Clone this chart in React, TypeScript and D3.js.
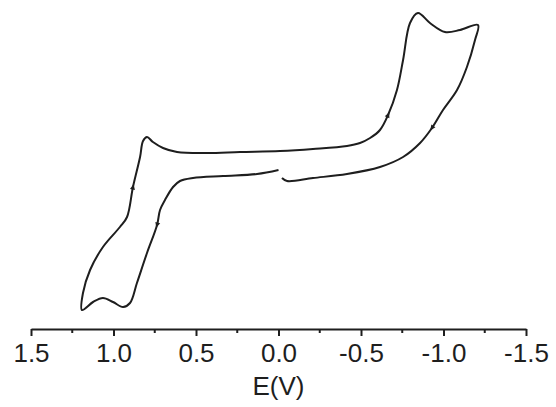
import React, { useRef, useEffect } from "react";
import * as d3 from "d3";

// potential (V) and current (arb. units)
const potential = [
  0.0, 0.13, 0.336, 0.518, 0.597, 0.639, 0.688, 0.718, 0.736, 0.797, 0.858, 0.9,
  0.942, 1.003, 1.064, 1.124, 1.191, 1.185, 1.142, 1.064, 0.961, 0.918, 0.882,
  0.839, 0.821, 0.797, 0.761, 0.7, 0.615, 0.433, 0.233, -0.009, -0.209, -0.415,
  -0.494, -0.555, -0.615, -0.664, -0.718, -0.755, -0.797, -0.845, -0.918, -1.009,
  -1.1, -1.209, -1.191, -1.142, -1.082, -0.997, -0.93, -0.858, -0.755, -0.615,
  -0.415, -0.209, -0.052, -0.021,
];
const current = [
  6.0, 5.6, 5.4, 5.2, 4.9, 4.3, 3.0, 2.0, 0.5, -2.3, -5.3, -7.3, -7.7, -7.2, -6.8,
  -7.2, -8.0, -6.3, -4.0, -1.7, 0.3, 1.3, 4.3, 7.3, 8.9, 9.3, 8.8, 8.2, 7.8, 7.7,
  7.8, 7.9, 8.1, 8.4, 8.7, 9.2, 10.0, 11.5, 14.0, 17.0, 20.7, 21.7, 20.7, 19.8,
  20.0, 20.5, 19.0, 16.3, 14.0, 12.0, 10.2, 8.7, 7.3, 6.3, 5.6, 5.2, 4.9, 5.2,
];
// indices of the scan-direction markers
const arrowIdx = [8, 22, 37, 50];

const majorTicks = [1.5, 1.0, 0.5, 0.0, -0.5, -1.0, -1.5];
const minorTicks = [1.25, 0.75, 0.25, -0.25, -0.75, -1.25];

function App() {
  const svgRef = useRef<SVGSVGElement>(null);
  const width = 556;
  const height = 407;

  useEffect(() => {
    const svg = d3.select(svgRef.current);
    svg.selectAll("*").remove();

    const x = d3.scaleLinear().domain([1.5, -1.5]).range([31, 526]);
    const y = d3.scaleLinear().domain([-10, 23]).range([330, 0]);

    const pts: [number, number][] = potential.map((e, i) => [e, current[i]]);

    const lineGen = d3
      .line<[number, number]>()
      .x((d) => x(d[0]))
      .y((d) => y(d[1]))
      .curve(d3.curveCatmullRom.alpha(0.5));

    const g = svg.append("g");
    g.append("path")
      .attr("d", lineGen(pts))
      .attr("fill", "none")
      .attr("stroke", "#1e1e1e")
      .attr("stroke-width", 2);

    // arrows
    arrowIdx.forEach((i) => {
      const px = x(pts[i][0]);
      const py = y(pts[i][1]);
      const nx = x(pts[i + 1][0]) - x(pts[i - 1][0]);
      const ny = y(pts[i + 1][1]) - y(pts[i - 1][1]);
      const ang = (Math.atan2(ny, nx) * 180) / Math.PI;
      g.append("path")
        .attr("d", "M3,0 L-2.5,-2.5 L-2.5,2.5 Z")
        .attr("transform", `translate(${px},${py}) rotate(${ang})`)
        .attr("fill", "#1e1e1e");
    });

    // axis
    const axisY = 329;
    const ax = svg.append("g").attr("transform", `translate(0,${axisY})`);
    ax.call(
      d3
        .axisBottom(x)
        .tickValues(majorTicks)
        .tickSize(7)
        .tickSizeOuter(0)
        .tickPadding(8)
        .tickFormat((d) => d3.format(".1f")(d as number).replace("−", "-"))
    );
    ax.select(".domain").attr("stroke", "#1e1e1e").attr("stroke-width", 2);
    ax.selectAll(".tick line").attr("stroke", "#1e1e1e").attr("stroke-width", 2);
    ax.selectAll(".tick text")
      .attr("fill", "#1e1e1e")
      .style("font-family", "Liberation Sans, Arial, sans-serif")
      .style("font-size", "26px");

    ax.selectAll(".minor")
      .data(minorTicks)
      .join("line")
      .attr("class", "minor")
      .attr("x1", (d) => x(d))
      .attr("x2", (d) => x(d))
      .attr("y1", 0)
      .attr("y2", 4)
      .attr("stroke", "#1e1e1e")
      .attr("stroke-width", 2);

    svg
      .append("text")
      .attr("x", x(0))
      .attr("y", 395)
      .attr("text-anchor", "middle")
      .attr("fill", "#1e1e1e")
      .style("font-family", "Liberation Sans, Arial, sans-serif")
      .style("font-size", "26px")
      .text("E(V)");
  }, []);

  return (
    <svg
      ref={svgRef}
      width={width}
      height={height}
      style={{ position: "absolute", left: 0, top: 0, background: "#fff" }}
    />
  );
}

export default App;
